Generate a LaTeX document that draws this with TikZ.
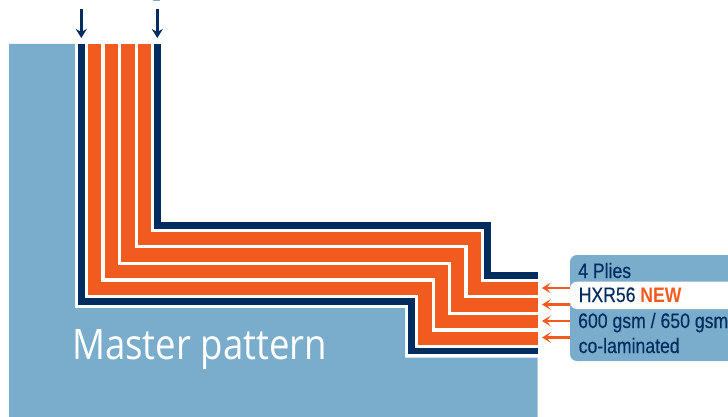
\documentclass[tikz,border=0pt]{standalone}
\usepackage{fontspec}
\setmainfont{Liberation Sans}
\newfontfamily\labelfont[FakeStretch=0.84,FakeBold=0.3]{Liberation Sans}
\newfontfamily\boldlabelfont[FakeStretch=0.84]{Liberation Sans}
\newfontfamily\masterfont[FakeStretch=0.87]{Open Sans}
\usetikzlibrary{arrows.meta}
\definecolor{skyblue}{HTML}{7AADCB}
\definecolor{navy}{HTML}{002C5F}
\definecolor{plyorange}{HTML}{F25B20}
\tikzset{
  x=1pt,y=-1pt,
  navyply/.style={draw=navy,line width=6.6pt,miter limit=10},
  orangeply/.style={draw=plyorange,line width=13.3pt,miter limit=10},
  toparrow/.style={draw=navy,line width=2.6pt,-{Stealth[length=9pt,width=11pt,inset=3pt]}},
  plyarrow/.style={draw=plyorange,line width=2.6pt,-{Stealth[length=9pt,width=11pt,inset=4.5pt]}},
  rowtext/.style={anchor=base west,inner sep=0pt,text=navy,font=\labelfont\fontsize{21}{21}\selectfont},
}
\begin{document}
\begin{tikzpicture}
\useasboundingbox (0,0) rectangle (728,417);
% master pattern
\fill[skyblue] (9,44) -- (75,44) -- (75,308) -- (405,308) -- (405,357.5) -- (537.5,357.5) -- (537.5,417) -- (9,417) -- cycle;
\node[anchor=base west,inner sep=0pt,text=white,font=\masterfont\fontsize{42}{42}\selectfont] (master) at (72,359) {Master pattern};
% plies
\draw[navyply]   (81.5,44) -- (81.5,301.2) -- (411.7,301.2) -- (411.7,351) -- (537.5,351);
\draw[orangeply] (94.7,44) -- (94.7,288.3) -- (425,288.3) -- (425,338.3) -- (537.5,338.3);
\draw[orangeply] (111.2,44) -- (111.2,271.7) -- (441.3,271.7) -- (441.3,321.7) -- (537.5,321.7);
\draw[orangeply] (128,44) -- (128,255) -- (457.7,255) -- (457.7,305) -- (537.5,305);
\draw[orangeply] (144.4,44) -- (144.4,238.3) -- (474.3,238.3) -- (474.3,288.3) -- (537.5,288.3);
\draw[navyply]   (157.7,44) -- (157.7,225.5) -- (487.7,225.5) -- (487.7,275.3) -- (537.5,275.3);
% top arrows
\coordinate (ta) at (81.3,9);
\coordinate (tah) at (81.3,38);
\coordinate (tb) at (157.3,9);
\coordinate (tbh) at (157.3,38);
\draw[toparrow] (ta) -- (tah);
\draw[toparrow] (tb) -- (tbh);
\fill[skyblue] (153,0) rectangle (160,1.2);
% label box
\fill[skyblue] (728,255) [rounded corners=7pt] -- (570,255) -- (570,361) [sharp corners] -- (728,361) -- cycle;
\fill[white] (728,281.7) [rounded corners=7pt] -- (570,281.7) -- (570,309) [sharp corners] -- (728,309) -- cycle;
\node[rowtext] (plies) at (578,278) {4 Plies};
\node[rowtext] (hxr) at (578.5,302) {HXR56 \textcolor{plyorange}{\boldlabelfont\bfseries NEW}};
\node[rowtext] (gsm) at (578,328) {600 gsm / 650 gsm};
\node[rowtext] (colam) at (578.5,353) {co-laminated};
% ply arrows
\coordinate (a1) at (570,288);
\coordinate (h1) at (542,288);
\coordinate (a2) at (570,304.5);
\coordinate (h2) at (542,304.5);
\coordinate (a3) at (570,321);
\coordinate (h3) at (542,321);
\coordinate (a4) at (570,337.5);
\coordinate (h4) at (542,337.5);
\draw[plyarrow] (a1) -- (h1);
\draw[plyarrow] (a2) -- (h2);
\draw[plyarrow] (a3) -- (h3);
\draw[plyarrow] (a4) -- (h4);
\end{tikzpicture}
\end{document}
